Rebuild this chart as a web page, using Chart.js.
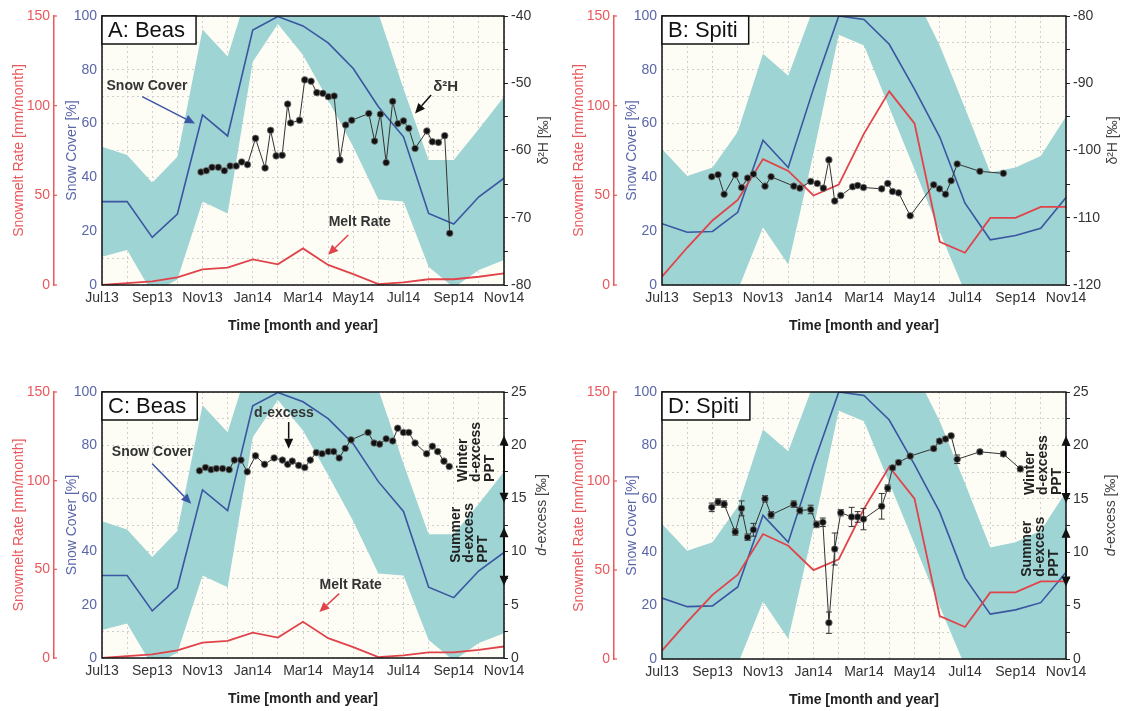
<!DOCTYPE html>
<html lang="en">
<head>
  <meta charset="UTF-8">
  <title>Snow cover, melt rate and isotopes - Beas and Spiti</title>
  <script src="https://cdn.jsdelivr.net/npm/chart.js"></script>
  <style>
    body {
      margin: 0;
      background: #ffffff;
      font-family: 'Liberation Sans', Arial, sans-serif;
    }
    .panel {
      position: absolute;
    }
  </style>
</head>
<body>

<canvas id="chartA" class="panel" width="560" height="345" style="left:0;top:0"></canvas>
<canvas id="chartB" class="panel" width="564" height="345" style="left:560px;top:0"></canvas>
<canvas id="chartC" class="panel" width="560" height="335" style="left:0;top:376px"></canvas>
<canvas id="chartD" class="panel" width="564" height="335" style="left:560px;top:376px"></canvas>

<script>
  // ---- data ----
  // month index: 0 = Jul13 ... 16 = Nov14
  const monthIdx = [0, 1, 2, 3, 4, 5, 6, 7, 8, 9, 10, 11, 12, 13, 14, 15, 16];
  const monthLabels = ['Jul13', 'Sep13', 'Nov13', 'Jan14', 'Mar14', 'May14', 'Jul14', 'Sep14', 'Nov14'];

  // Beas (panels A and C)
  const beasSnow    = [31, 31, 17.7, 26.4, 63.2, 55.4, 94.8, 99.8, 96.3, 90, 80.5, 66.3, 55.1, 26.6, 22.7, 32.8, 39.7];
  const beasSnowMax = [51.4, 48.3, 38, 47.7, 95, 84.9, 115, 130, 135, 128, 116, 101, 73, 46.5, 46.5, 58, 70];
  const beasSnowMin = [10.5, 13, -3, 2, 31, 26.6, 83, 97, 85.5, 68.8, 51.4, 31.8, 31, 6.8, -1, 5.6, 9.3];
  const beasMelt    = [0, 1, 2, 4.3, 8.7, 9.7, 14.3, 11.5, 20.4, 11.2, 6.1, 0.5, 1.5, 3.2, 3.2, 4.6, 6.5];

  const beasD2HTime = [3.94, 4.15, 4.38, 4.63, 4.87, 5.10, 5.34, 5.56, 5.79, 6.11, 6.49, 6.71, 6.93, 7.17, 7.39,
                       7.51, 7.86, 8.07, 8.32, 8.55, 8.79, 9.01, 9.24, 9.47, 9.70, 9.94, 10.62, 10.85, 11.08, 11.31,
                       11.57, 11.78, 12.0, 12.21, 12.46, 12.93, 13.15, 13.39, 13.64, 13.84];
  const beasD2H     = [-63.2, -63.0, -62.5, -62.5, -63.0, -62.3, -62.3, -61.7, -62.1, -58.2, -62.6, -57.0, -60.8, -60.7, -53.1,
                       -55.9, -55.5, -49.5, -49.7, -51.4, -51.5, -52.0, -51.9, -61.4, -56.2, -55.5, -54.5, -58.6, -54.6, -61.8,
                       -52.7, -56.0, -55.6, -56.7, -59.7, -57.1, -58.7, -58.8, -57.8, -72.3];

  const beasDexTime = [3.88, 4.12, 4.34, 4.55, 4.80, 5.06, 5.27, 5.53, 5.78, 6.11, 6.47, 6.85, 7.18, 7.39, 7.57,
                       7.83, 8.07, 8.29, 8.53, 8.76, 9.01, 9.22, 9.44, 9.68, 9.91, 10.59, 10.83, 11.05, 11.31, 11.57,
                       11.77, 12.0, 12.21, 12.46, 12.92, 13.15, 13.36, 13.61, 13.82];
  const beasDex     = [17.6, 17.9, 17.7, 17.8, 17.8, 17.7, 18.6, 18.6, 17.5, 19.0, 18.2, 18.8, 18.6, 18.2, 18.5,
                       18.1, 17.9, 18.6, 19.3, 19.2, 19.4, 19.4, 18.8, 19.7, 20.5, 21.2, 20.2, 20.1, 20.6, 20.4,
                       21.6, 21.2, 21.2, 20.2, 19.2, 19.9, 19.4, 18.5, 18.0];

  // Spiti (panels B and D)
  const spitiSnow    = [22.8, 19.6, 19.9, 27, 53.8, 43.7, 73, 100, 98.7, 89.5, 72.8, 55, 30.4, 16.8, 18.4, 21.1, 32.5];
  const spitiSnowMax = [50.6, 40.5, 43.7, 57, 86, 77.8, 103, 125, 130, 120, 108, 89, 65.8, 41.8, 43.7, 48, 62.6];
  const spitiSnowMin = [-20, -15, -10, -2, 21.5, 7.6, 49, 93, 89, 66, 43, 19.7, -2.7, -15, -15, -15, -10];
  const spitiMelt    = [4.7, 20.9, 36, 47.4, 70.2, 63.6, 49.9, 56, 84.4, 108, 90.1, 24.1, 18, 37.4, 37.4, 43.6, 43.6];

  const spitiD2HTime = [1.97, 2.22, 2.46, 2.90, 3.15, 3.39, 3.62, 4.08, 4.32, 5.22, 5.46, 5.89, 6.15, 6.39, 6.61,
                        6.84, 7.08, 7.55, 7.75, 7.98, 8.70, 8.94, 9.13, 9.37, 9.83, 10.76, 10.99, 11.23, 11.45, 11.69,
                        12.59, 13.52];
  const spitiD2H     = [-103.9, -103.6, -106.5, -103.6, -105.5, -104.1, -103.5, -105.3, -103.9, -105.3, -105.6, -104.6, -104.9, -105.6, -101.4,
                        -107.5, -106.7, -105.4, -105.2, -105.5, -105.7, -104.9, -106.1, -106.3, -109.7, -105.1, -105.7, -106.5, -104.5, -102.0,
                        -103.1, -103.4];

  const spitiDexTime = [1.97, 2.22, 2.46, 2.90, 3.15, 3.39, 3.62, 4.08, 4.32, 5.22, 5.46, 5.89, 6.12, 6.37, 6.61,
                        6.84, 7.08, 7.51, 7.75, 7.98, 8.70, 8.94, 9.13, 9.37, 9.83, 10.76, 10.99, 11.23, 11.45, 11.69,
                        12.59, 13.52, 14.19];
  const spitiDex     = [14.2, 14.7, 14.5, 11.9, 14.1, 11.4, 12.1, 15.0, 13.5, 14.5, 13.9, 14.0, 12.6, 12.8, 3.4,
                        10.3, 13.7, 13.3, 13.3, 13.1, 14.3, 16.0, 17.9, 18.4, 19.0, 19.7, 20.4, 20.6, 20.9, 18.7,
                        19.4, 19.2, 17.8];
  const spitiDexErr  = [0.4, 0.3, 0.3, 0.3, 0.7, 0.3, 0.6, 0.3, 0.3, 0.3, 0.3, 0.4, 0.3, 0.4, 1.0,
                        1.5, 0.3, 0.9, 0.5, 1.0, 1.2, 0.3, 0.2, 0.2, 0.2, 0.2, 0.2, 0.2, 0.2, 0.4,
                        0.2, 0.2, 0.2];

  // precipitation d-excess ranges marked on the right axis
  const winterPPT = [14.6, 20.9];
  const summerPPT = [6.8, 12.3];

  // ---- colours ----
  const TEAL = '#9ed4d3';
  const BLUE = '#3a55a2';
  const RED = '#e0434a';
  const RED_AXIS = '#e8585c';
  const BLUE_AXIS = '#5a66a8';
  const FONT = "'Liberation Sans', Arial, sans-serif";

  Chart.defaults.font.family = FONT;
  Chart.defaults.animation = false;

  const pairs = (xs, ys) => xs.map((x, i) => ({ x: x, y: ys[i] }));

  function drawArrow(ctx, x1, y1, x2, y2, color, width) {
    const ang = Math.atan2(y2 - y1, x2 - x1);
    const head = 10, half = 4.5;
    const bx = x2 - head * Math.cos(ang), by = y2 - head * Math.sin(ang);
    ctx.strokeStyle = color;
    ctx.fillStyle = color;
    ctx.lineWidth = width || 1.5;
    ctx.beginPath();
    ctx.moveTo(x1, y1);
    ctx.lineTo(bx, by);
    ctx.stroke();
    ctx.beginPath();
    ctx.moveTo(x2, y2);
    ctx.lineTo(bx + half * Math.sin(ang), by - half * Math.cos(ang));
    ctx.lineTo(bx - half * Math.sin(ang), by + half * Math.cos(ang));
    ctx.closePath();
    ctx.fill();
  }

  // plot background, frame, labels and arrows
  const decor = {
    id: 'decor',
    beforeDraw(chart) {
      const a = chart.chartArea, ctx = chart.ctx;
      ctx.save();
      ctx.fillStyle = '#fdfdf6';
      ctx.fillRect(a.left, a.top, a.right - a.left, a.bottom - a.top);
      ctx.restore();
    },
    afterDraw(chart, args, o) {
      const ctx = chart.ctx, a = chart.chartArea;
      const xs = chart.scales.x, ys = chart.scales.snow, yi = chart.scales.iso, ym = chart.scales.melt;
      ctx.save();

      // frame
      ctx.strokeStyle = '#111';
      ctx.lineWidth = 1.5;
      ctx.strokeRect(a.left, a.top, a.right - a.left, a.bottom - a.top);

      // small inward ticks on the melt axis
      ctx.strokeStyle = RED_AXIS;
      ctx.lineWidth = 1.2;
      ym.ticks.forEach(t => {
        const y = ym.getPixelForValue(t.value);
        ctx.beginPath();
        ctx.moveTo(ym.right, y);
        ctx.lineTo(ym.right + 3, y);
        ctx.stroke();
      });

      // arrows
      (o.arrows || []).forEach(ar => {
        drawArrow(ctx, xs.getPixelForValue(ar.from[0]), ys.getPixelForValue(ar.from[1]),
                  xs.getPixelForValue(ar.to[0]), ys.getPixelForValue(ar.to[1]), ar.color, 1.5);
      });

      // text notes
      ctx.textAlign = 'center';
      ctx.textBaseline = 'middle';
      ctx.fillStyle = '#333';
      (o.notes || []).forEach(n => {
        ctx.font = 'bold ' + (n.size || 14) + 'px ' + FONT;
        ctx.fillText(n.text, xs.getPixelForValue(n.x), ys.getPixelForValue(n.y));
      });

      // rotated PPT notes
      (o.ppt || []).forEach(p => {
        ctx.save();
        ctx.translate(xs.getPixelForValue(p.x), ys.getPixelForValue(p.y));
        ctx.rotate(-Math.PI / 2);
        ctx.font = 'bold 14px ' + FONT;
        ctx.textAlign = 'left';
        ctx.textBaseline = 'middle';
        ctx.fillStyle = '#222';
        p.lines.forEach((t, i) => ctx.fillText(t, 0, i * 13.5));
        ctx.restore();
      });

      // PPT ranges on the right axis
      (o.ranges || []).forEach(r => {
        const y1 = yi.getPixelForValue(r[0]), y2 = yi.getPixelForValue(r[1]);
        const mid = (y1 + y2) / 2;
        drawArrow(ctx, a.right, mid, a.right, y2, '#111', 2);
        drawArrow(ctx, a.right, mid, a.right, y1, '#111', 2);
      });

      // panel label
      ctx.font = '22px ' + FONT;
      const tw = ctx.measureText(o.label).width;
      ctx.fillStyle = '#ffffff';
      ctx.fillRect(a.left, a.top, tw + 17, 28);
      ctx.strokeStyle = '#111';
      ctx.lineWidth = 1.5;
      ctx.strokeRect(a.left, a.top, tw + 17, 28);
      ctx.fillStyle = '#111';
      ctx.textAlign = 'left';
      ctx.textBaseline = 'middle';
      ctx.fillText(o.label, a.left + 6, a.top + 15);

      // right axis title, reading bottom to top
      ctx.translate(a.right + o.titleOffset, (a.top + a.bottom) / 2 - 10);
      ctx.rotate(-Math.PI / 2);
      ctx.textBaseline = 'middle';
      ctx.fillStyle = '#444';
      let total = 0;
      o.rightTitle.forEach(part => {
        ctx.font = (part[1] ? 'italic ' : '') + '14px ' + FONT;
        total += ctx.measureText(part[0]).width;
      });
      let pos = -total / 2;
      o.rightTitle.forEach(part => {
        ctx.font = (part[1] ? 'italic ' : '') + '14px ' + FONT;
        ctx.fillText(part[0], pos, 0);
        pos += ctx.measureText(part[0]).width;
      });
      ctx.restore();
    }
  };

  // vertical error bars, drawn under the markers
  const errorBars = {
    id: 'errorBars',
    beforeDatasetDraw(chart, args) {
      const ds = chart.data.datasets[args.index];
      if (!ds.errors) return;
      const ys = chart.scales[ds.yAxisID], ctx = chart.ctx;
      ctx.save();
      ctx.strokeStyle = '#333';
      ctx.lineWidth = 1;
      args.meta.data.forEach((pt, i) => {
        const v = ds.data[i].y, e = ds.errors[i];
        const top = ys.getPixelForValue(v + e), bot = ys.getPixelForValue(v - e);
        ctx.beginPath();
        ctx.moveTo(pt.x, top); ctx.lineTo(pt.x, bot);
        ctx.moveTo(pt.x - 3, top); ctx.lineTo(pt.x + 3, top);
        ctx.moveTo(pt.x - 3, bot); ctx.lineTo(pt.x + 3, bot);
        ctx.stroke();
      });
      ctx.restore();
    }
  };

  function makePanel(id, p) {
    const isoSet = {
      label: 'iso',
      data: pairs(p.isoTime, p.iso),
      yAxisID: 'iso',
      borderColor: '#333',
      borderWidth: 1,
      pointRadius: 3.3,
      pointBackgroundColor: '#111',
      pointBorderColor: '#777',
      pointBorderWidth: 0.8,
      order: 1
    };
    if (p.isoErr) isoSet.errors = p.isoErr;

    new Chart(document.getElementById(id), {
      type: 'line',
      data: {
        datasets: [
          { label: 'max', data: pairs(monthIdx, p.snowMax), yAxisID: 'snow', fill: 1,
            backgroundColor: TEAL, borderWidth: 0, pointRadius: 0, order: 10 },
          { label: 'min', data: pairs(monthIdx, p.snowMin), yAxisID: 'snow', fill: false,
            borderWidth: 0, pointRadius: 0, order: 11 },
          { label: 'Snow Cover', data: pairs(monthIdx, p.snow), yAxisID: 'snow',
            borderColor: BLUE, borderWidth: 1.6, pointRadius: 0, order: 3 },
          { label: 'Melt Rate', data: pairs(monthIdx, p.melt), yAxisID: 'melt',
            borderColor: RED, borderWidth: 1.8, pointRadius: 0, order: 2 },
          isoSet
        ]
      },
      options: {
        responsive: false,
        animation: false,
        layout: { padding: { left: 5, right: 0, top: 16, bottom: p.padBottom } },
        plugins: {
          legend: { display: false },
          tooltip: { enabled: false },
          filler: { drawTime: 'beforeDatasetsDraw' },
          decor: p.decor
        },
        scales: {
          x: {
            type: 'linear', min: 0, max: 16,
            ticks: {
              stepSize: 1, autoSkip: false, maxRotation: 0, padding: 5,
              color: '#333', font: { size: 14 },
              callback: v => (v % 2 === 0 ? monthLabels[v / 2] : '')
            },
            grid: { color: '#cfcfcf', drawTicks: false },
            border: { display: false, dash: [2, 3] },
            title: { display: true, text: 'Time [month and year]', color: '#222',
                     font: { size: 14, weight: 'bold' }, padding: { top: 6, bottom: 0 } },
            afterFit: s => { s.height = 50; }
          },
          snow: {
            position: 'left', min: 0, max: 100, weight: 1,
            ticks: { stepSize: 10, padding: 5, color: BLUE_AXIS, font: { size: 14 },
                     callback: v => (v % 20 === 0 ? v : '') },
            grid: { color: '#cfcfcf', drawTicks: false },
            border: { display: false, dash: [2, 3] },
            title: { display: true, text: 'Snow Cover [%]', color: BLUE_AXIS,
                     font: { size: 14 }, padding: { top: 10, bottom: 0 } },
            afterFit: s => { s.width = 48; }
          },
          melt: {
            position: 'left', min: 0, max: 150, weight: 2,
            ticks: { stepSize: 50, padding: 4, color: RED_AXIS, font: { size: 14 } },
            grid: { drawOnChartArea: false, drawTicks: false, color: RED_AXIS },
            border: { color: RED_AXIS, width: 1.5 },
            title: { display: true, text: 'Snowmelt Rate [mm/month]', color: RED_AXIS,
                     font: { size: 14 }, padding: { top: 6, bottom: 0 } },
            afterFit: s => { s.width = 49; }
          },
          iso: {
            position: 'right', min: p.isoMin, max: p.isoMax,
            ticks: { stepSize: p.isoStep, padding: 3, color: '#333', font: { size: 14 },
                     callback: v => (v % p.isoLabelStep === 0 ? v : '') },
            grid: { drawOnChartArea: false, color: '#222', tickLength: 4 },
            border: { display: false },
            afterFit: s => { s.width = p.rightWidth; }
          }
        }
      },
      plugins: [decor, errorBars]
    });
  }

  makePanel('chartA', {
    snow: beasSnow, snowMax: beasSnowMax, snowMin: beasSnowMin, melt: beasMelt,
    isoTime: beasD2HTime, iso: beasD2H,
    isoMin: -80, isoMax: -40, isoStep: 5, isoLabelStep: 10, rightWidth: 56, padBottom: 10,
    decor: {
      label: 'A: Beas', titleOffset: 40, rightTitle: [['δ²H [‰]', false]],
      notes: [
        { text: 'Snow Cover', x: 1.79, y: 74 },
        { text: 'δ²H', x: 13.68, y: 73.5, size: 15 },
        { text: 'Melt Rate', x: 10.26, y: 23.3 }
      ],
      arrows: [
        { from: [1.6, 70], to: [3.7, 60], color: BLUE },
        { from: [13.1, 70.6], to: [12.46, 63.8], color: '#111' },
        { from: [9.8, 18.6], to: [9.0, 11.2], color: RED }
      ]
    }
  });

  makePanel('chartB', {
    snow: spitiSnow, snowMax: spitiSnowMax, snowMin: spitiSnowMin, melt: spitiMelt,
    isoTime: spitiD2HTime, iso: spitiD2H,
    isoMin: -120, isoMax: -80, isoStep: 5, isoLabelStep: 10, rightWidth: 58, padBottom: 10,
    decor: { label: 'B: Spiti', titleOffset: 47, rightTitle: [['δ²H [‰]', false]] }
  });

  makePanel('chartC', {
    snow: beasSnow, snowMax: beasSnowMax, snowMin: beasSnowMin, melt: beasMelt,
    isoTime: beasDexTime, iso: beasDex,
    isoMin: 0, isoMax: 25, isoStep: 2.5, isoLabelStep: 5, rightWidth: 56, padBottom: 3,
    decor: {
      label: 'C: Beas', titleOffset: 38, rightTitle: [['d', true], ['-excess [‰]', false]],
      notes: [
        { text: 'Snow Cover', x: 2.0, y: 77.4 },
        { text: 'd-excess', x: 7.24, y: 91.9 },
        { text: 'Melt Rate', x: 9.9, y: 27.3 }
      ],
      arrows: [
        { from: [2.0, 73], to: [3.55, 58], color: BLUE },
        { from: [7.43, 88.7], to: [7.43, 78.7], color: '#111' },
        { from: [9.44, 24.2], to: [8.65, 17.3], color: RED }
      ],
      ppt: [
        { lines: ['Winter', 'd-excess', 'PPT'], x: 14.37, y: 66.2 },
        { lines: ['Summer', 'd-excess', 'PPT'], x: 14.09, y: 35.8 }
      ],
      ranges: [winterPPT, summerPPT]
    }
  });

  makePanel('chartD', {
    snow: spitiSnow, snowMax: spitiSnowMax, snowMin: spitiSnowMin, melt: spitiMelt,
    isoTime: spitiDexTime, iso: spitiDex, isoErr: spitiDexErr,
    isoMin: 0, isoMax: 25, isoStep: 2.5, isoLabelStep: 5, rightWidth: 58, padBottom: 2,
    decor: {
      label: 'D: Spiti', titleOffset: 45, rightTitle: [['d', true], ['-excess [‰]', false]],
      ppt: [
        { lines: ['Winter', 'd-excess', 'PPT'], x: 14.57, y: 61.4 },
        { lines: ['Summer', 'd-excess', 'PPT'], x: 14.45, y: 30.8 }
      ],
      ranges: [winterPPT, summerPPT]
    }
  });
</script>

</body>
</html>
